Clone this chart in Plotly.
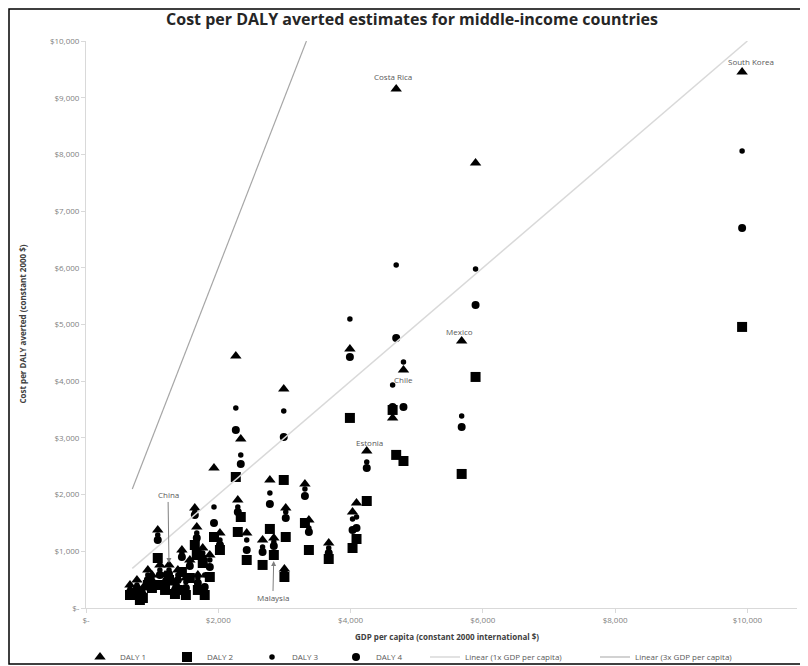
import plotly.graph_objects as go

# ---- data ----
countries = ["South Korea", "", "Mexico", "Costa Rica", "Chile", "", "", "Estonia", "", "",
             "", "", "", "", "", "", "Malaysia", "", "", "",
             "", "", "", "", "", "", "", "", "", "",
             "", "", "", "", "", "", "", "China", "",
             "", "", "", "", "", "", ""]
gdp = [9920, 5890, 5680, 4690, 4800, 4636, 3990, 4245, 4090, 4030,
       3670, 3310, 3370, 2990, 2780, 3020, 2840, 2670, 3000, 2265,
       2340, 1935, 2430, 2295, 1645, 1675, 1085, 1450, 1570, 1795,
       1765, 2025, 935, 665, 770, 860, 1195, 1255, 1345,
       997, 1117, 1389, 1510, 1691, 1872, 815]
daly1 = [9455, 7850, 4710, 9155, 4198, 3352, 4569, 2769, 1852, 1693,
         1147, 2187, 1552, 3863, 2258, 1764, 1235, 1200, 688, 4445,
         2981, 2470, 1323, 1905, 1764, 1429, 1376, 1023, 847, 759,
         1058, 1323, 670, 406, 494, 353, 582, 759, 441,
         582, 759, 670, 529, 582, 935, 282]
daly2 = [4957, 4075, 2364, 2700, 2593, 3493, 3352, 1887, 1217, 1058,
         864, 1499, 1023, 2258, 1394, 1252, 935, 759, 547, 2311,
         1605, 1252, 847, 1341, 1111, 935, 882, 635, 529, 229,
         794, 1023, 406, 229, 265, 176, 318, 494, 247,
         353, 406, 318, 229, 318, 547, 141]
daly3 = [8061, 5980, 3387, 6051, 4339, 3934, 5098, 2575, 1605, 1570,
         1058, 2099, 1411, 3475, 2029, 1693, 1164, 1076, 635, 3528,
         2699, 1782, 1200, 1782, 1693, 1323, 1288, 970, 794, 582,
         970, 1200, 582, 335, 406, 282, 494, 670, 370,
         529, 670, 582, 459, 529, 847, 229]
daly4 = [6703, 5345, 3193, 4763, 3546, 3546, 4428, 2470, 1411, 1376,
         970, 1976, 1341, 3016, 1835, 1588, 1094, 988, 600, 3140,
         2540, 1499, 1023, 1693, 1640, 1235, 1200, 900, 741, 370,
         882, 1111, 494, 282, 353, 229, 406, 600, 318,
         459, 582, 494, 353, 441, 723, 194]

line_x_1x = [700, 10000]
line_x_3x = [700, 3333]
x_ticks = [0, 2000, 4000, 6000, 8000, 10000]
x_tick_labels = ["$-", "$2,000", "$4,000", "$6,000", "$8,000", "$10,000"]
y_ticks = [0, 1000, 2000, 3000, 4000, 5000, 6000, 7000, 8000, 9000, 10000]
y_tick_labels = ["$-", "$1,000", "$2,000", "$3,000", "$4,000", "$5,000",
                 "$6,000", "$7,000", "$8,000", "$9,000", "$10,000"]

FONT = "Open Sans"
GRAY_TXT = "#595959"

fig = go.Figure()
fig.add_trace(go.Scatter(x=gdp, y=daly1, mode="markers", name="DALY 1", legendwidth=42,
                         marker=dict(symbol="triangle-up", size=10, color="black")))
fig.add_trace(go.Scatter(x=gdp, y=daly2, mode="markers", name="DALY 2", legendwidth=40,
                         marker=dict(symbol="square", size=10, color="black")))
fig.add_trace(go.Scatter(x=gdp, y=daly3, mode="markers", name="DALY 3", legendwidth=39,
                         marker=dict(symbol="circle", size=5.5, color="black")))
fig.add_trace(go.Scatter(x=gdp, y=daly4, mode="markers", name="DALY 4", legendwidth=44,
                         marker=dict(symbol="circle", size=8, color="black")))
fig.add_trace(go.Scatter(x=line_x_1x, y=[1 * v for v in line_x_1x], mode="lines",
                         name="Linear (1x GDP per capita)", legendwidth=125,
                         line=dict(color="#d9d9d9", width=1.5)))
fig.add_trace(go.Scatter(x=line_x_3x, y=[3 * v for v in line_x_3x], mode="lines",
                         name="Linear (3x GDP per capita)", legendwidth=93,
                         line=dict(color="#a6a6a6", width=1.2)))

# country labels
def idx(name):
    return countries.index(name)

label_specs = [("South Korea", daly1, 9, 10), ("Costa Rica", daly1, -3, 12),
               ("Mexico", daly1, -2, 9), ("Chile", daly1, 0, -10),
               ("Estonia", daly1, 3, 9)]
annotations = []
for name, series, xs, ys in label_specs:
    i = idx(name)
    annotations.append(dict(x=gdp[i], y=series[i], text=name, showarrow=False,
                             xshift=xs, yshift=ys,
                             font=dict(family=FONT, size=8, color=GRAY_TXT)))
i = idx("China")
annotations.append(dict(x=gdp[i], y=daly1[i], text="China", showarrow=True,
                        ax=-1, ay=-70, arrowhead=2, arrowsize=1, arrowwidth=1,
                        arrowcolor="#7f7f7f", standoff=2,
                        font=dict(family=FONT, size=8, color=GRAY_TXT)))
i = idx("Malaysia")
annotations.append(dict(x=gdp[i], y=daly2[i], text="Malaysia", showarrow=True,
                        ax=-1, ay=43, arrowhead=2, arrowsize=1, arrowwidth=1,
                        arrowcolor="#7f7f7f", standoff=6,
                        font=dict(family=FONT, size=8, color=GRAY_TXT)))
# axis titles
annotations.append(dict(xref="paper", yref="paper", x=(447 - 86) / 711, y=(608 - 636) / 567,
                        text="<b>GDP per capita (constant 2000 international $)</b>",
                        showarrow=False, xanchor="center", yanchor="middle",
                        font=dict(family=FONT, size=8, color="#404040")))
annotations.append(dict(xref="paper", yref="paper", x=(22 - 86) / 711, y=0.5,
                        text="<b>Cost per DALY averted (constant 2000 $)</b>",
                        showarrow=False, textangle=-90, xanchor="center", yanchor="middle",
                        font=dict(family=FONT, size=8, color="#404040")))

axis_common = dict(showline=True, linecolor="#d9d9d9", linewidth=1, ticks="outside",
                   ticklen=4, tickcolor="#d9d9d9", showgrid=False, zeroline=False,
                   tickfont=dict(family=FONT, size=8, color="#7f7f7f"))

# the page body has an 8px margin, so the figure is 800x658 and sits at (8, 8)
fig.update_layout(
    width=800, height=658,
    margin=dict(l=78, r=11, t=33, b=58, autoexpand=False),
    paper_bgcolor="white", plot_bgcolor="white",
    title=dict(text="<b>Cost per DALY averted estimates for middle-income countries</b>",
               x=404 / 800, xanchor="center", y=1 - 11.5 / 658, yanchor="middle",
               font=dict(family=FONT, size=16, color="#262626")),
    xaxis=dict(range=[0, 10750], tickvals=x_ticks, ticktext=x_tick_labels, **axis_common),
    yaxis=dict(range=[0, 10000], tickvals=y_ticks, ticktext=y_tick_labels, **axis_common),
    showlegend=True,
    legend=dict(orientation="h", x=(72 - 78) / 711, xanchor="left",
                y=(608 - 657) / 567, yanchor="middle",
                font=dict(family=FONT, size=8, color=GRAY_TXT),
                bgcolor="rgba(0,0,0,0)"),
    annotations=annotations,
    shapes=[dict(type="rect", xref="paper", yref="paper",
                 x0=(9 - 86) / 711, x1=(805 - 86) / 711,
                 y0=(608 - 664) / 567, y1=(608 - 9) / 567,
                 line=dict(color="black", width=1.5))],
)

fig.write_html("out.html")
